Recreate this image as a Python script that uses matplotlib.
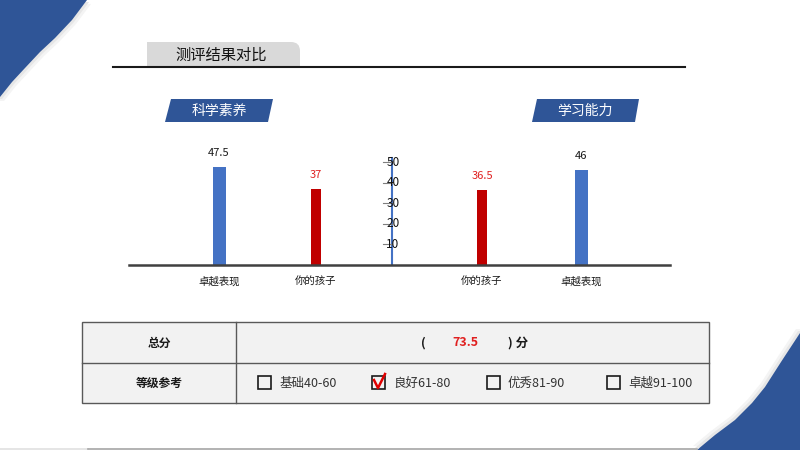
import matplotlib
matplotlib.use('Agg')
import matplotlib.pyplot as plt
from matplotlib.patches import Polygon, Rectangle, PathPatch
from matplotlib.path import Path

plt.rcParams['font.family'] = ['Noto Sans CJK SC', 'DejaVu Sans']

# === data ===
left_title = '科学素养'
right_title = '学习能力'
left_cats = ['卓越表现', '你的孩子']
left_vals = [47.5, 37]
right_cats = ['你的孩子', '卓越表现']
right_vals = [36.5, 46]
axis_ticks = [10, 20, 30, 40, 50]
total_score = 73.5
grade_labels = ['基础40-60', '良好61-80', '优秀81-90', '卓越91-100']
grade_checked = [False, True, False, False]

# === colours / layout ===
BLUE = '#4472C4'
RED = '#C00000'
DARK_BLUE = '#2F5597'
left_x = [219, 316]
right_x = [482, 581]
left_colors = [BLUE, RED]
right_colors = [RED, BLUE]
left_w = [13, 10]
right_w = [10, 13]
axis_x = 392

# corner outlines (pixel coords)
tl_edge = [(87, 0), (72, 20), (55, 38), (40, 52), (25, 68), (12, 82), (0, 97)]
br_edge = [(697, 450), (715, 435), (735, 420), (752, 403), (765, 387), (781, 362), (800, 333)]

fig = plt.figure(figsize=(8, 4.5), dpi=100)

# overlay in pixel coordinates for decoration
bg = fig.add_axes([0, 0, 1, 1])
bg.set_xlim(0, 800)
bg.set_ylim(450, 0)
bg.axis('off')

# corner shapes with a soft shadow
for d, c in [(4, '#F4F4F4'), (2, '#E6E6E6')]:
    bg.add_patch(Polygon([(0, 0)] + [(x + d, y + d) for x, y in tl_edge] + [(0, 97 + d)],
                         closed=True, facecolor=c, edgecolor='none'))
    bg.add_patch(Polygon([(x - d, y - d) for x, y in br_edge] + [(800, 333 - d), (800, 450)],
                         closed=True, facecolor=c, edgecolor='none'))
bg.add_patch(Polygon([(0, 0)] + tl_edge, closed=True, facecolor=DARK_BLUE, edgecolor='none'))
bg.add_patch(Polygon(br_edge + [(800, 450)], closed=True, facecolor=DARK_BLUE, edgecolor='none'))
bg.plot([0, 88], [449, 449], color='#E0E0E0', lw=1.2)
bg.plot([88, 697], [449, 449], color='#A6A6A6', lw=1.2)

# title tab
r = 9
verts = [(147, 68), (147, 42), (300 - r, 42), (300, 42), (300, 42 + r), (300, 68), (147, 68)]
codes = [Path.MOVETO, Path.LINETO, Path.LINETO, Path.CURVE3, Path.CURVE3, Path.LINETO, Path.CLOSEPOLY]
bg.add_patch(PathPatch(Path(verts, codes), facecolor='#D9D9D9', edgecolor='none'))
bg.plot([113, 685], [67, 67], color='#1A1A1A', lw=1.5)
bg.text(221, 55, '测评结果对比', fontsize=11, fontweight='medium', ha='center', va='center', color='#111111')

# section labels
bg.add_patch(Polygon([(171, 99), (273, 99), (268, 122), (165, 122)], closed=True,
                     facecolor=DARK_BLUE, edgecolor='none'))
bg.text(219, 111, left_title, fontsize=10, ha='center', va='center', color='white')
bg.add_patch(Polygon([(537, 99), (639, 99), (635, 122), (532, 122)], closed=True,
                     facecolor=DARK_BLUE, edgecolor='none'))
bg.text(585, 111, right_title, fontsize=10, ha='center', va='center', color='white')

# === bar chart ===
px_per_unit = 103 / 50
ymax = 60
ax = fig.add_axes([129 / 800, (450 - 265) / 450, (670 - 129) / 800, ymax * px_per_unit / 450])
ax.patch.set_alpha(0)
ax.set_xlim(129, 670)
ax.set_ylim(0, ymax)
for s in ['top', 'right', 'left']:
    ax.spines[s].set_visible(False)
ax.spines['bottom'].set_color('#404040')
ax.spines['bottom'].set_linewidth(1.8)
ax.set_yticks([])

ax.bar(left_x, left_vals, width=left_w, color=left_colors)
ax.bar(right_x, right_vals, width=right_w, color=right_colors)

xs = left_x + right_x
vals = left_vals + right_vals
cols = left_colors + right_colors
for x, v, c in zip(xs, vals, cols):
    tc = '#E02020' if c == RED else '#1A1A1A'
    ax.annotate(f'{v:g}', (x, v), xytext=(0, 10), textcoords='offset points',
                ha='center', va='center', fontsize=8, color=tc)

ax.set_xticks(xs)
ax.set_xticklabels(left_cats + right_cats, fontsize=7.5, color='#1A1A1A')
ax.tick_params(axis='x', length=0, pad=8)

# central value axis
ax.plot([axis_x, axis_x], [0, 52], color=BLUE, lw=1.5)
for t in axis_ticks:
    ax.plot([axis_x - 9, axis_x], [t, t], color='#7F7F7F', lw=0.8)
    ax.text(axis_x + 1, t, str(t), fontsize=8.5, ha='center', va='center', color='#111111')

# === score table ===
bg.add_patch(Rectangle((82, 322), 627, 81, facecolor='#F2F2F2', edgecolor='#595959', lw=1))
bg.plot([82, 709], [363, 363], color='#595959', lw=1)
bg.plot([236, 236], [322, 403], color='#595959', lw=1)
bg.text(159, 343, '总分', fontsize=8.5, fontweight='bold', ha='center', va='center', color='#1A1A1A')
bg.text(159, 383, '等级参考', fontsize=8.5, fontweight='bold', ha='center', va='center', color='#1A1A1A')
bg.text(423, 343, '(', fontsize=9, fontweight='bold', ha='center', va='center', color='#1A1A1A')
bg.text(465, 343, f'{total_score:g}', fontsize=9, fontweight='bold', ha='center', va='center', color='#E02020')
bg.text(518, 343, ') 分', fontsize=9, fontweight='bold', ha='center', va='center', color='#1A1A1A')

box_x = [258, 372, 487, 607]
for bx, lab, chk in zip(box_x, grade_labels, grade_checked):
    bg.add_patch(Rectangle((bx, 376), 13, 13, facecolor='none', edgecolor='#1A1A1A', lw=1.2))
    bg.text(bx + 21, 383, lab, fontsize=9, ha='left', va='center', color='#333333')
    if chk:
        bg.plot([bx + 2, bx + 6, bx + 13], [380, 388, 374], color='#E00000', lw=1.8)

fig.savefig('out.png', dpi=100)
